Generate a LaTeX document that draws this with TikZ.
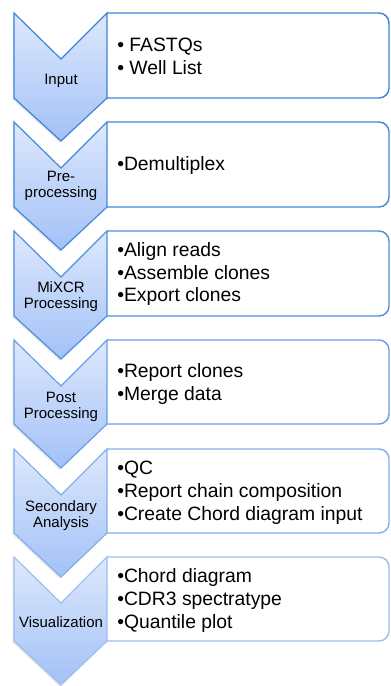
\documentclass[tikz,border=0pt]{standalone}
\usepackage{fontspec}
\setmainfont{Liberation Sans}
\usetikzlibrary{shadows}
\definecolor{lineblue}{HTML}{3D84D8}
\definecolor{linepale}{HTML}{BCD3F5}
\definecolor{fillhi}{HTML}{DDE8FC}
\definecolor{filllo}{HTML}{A3C1F7}

\begin{document}
\begin{tikzpicture}[x=0.75pt,y=-0.75pt,
  chevron/.style={draw=#1, line width=0.9pt, line join=miter,
    top color=fillhi, bottom color=filllo,
    drop shadow={shadow xshift=-1pt, shadow yshift=-1.2pt, opacity=0.18}},
  listbox/.style={draw=#1, line width=1.1pt, fill=white, rounded corners=7.5pt},
  stagelabel/.style={anchor=base, align=center, inner sep=0pt,
    font=\fontsize{11.25}{12}\selectfont},
  items/.style={anchor=base west, align=left, inner sep=0pt,
    font=\fontsize{14.5}{17}\selectfont}]
  \useasboundingbox (0,0) rectangle (391,686);
  % Input
  \draw[listbox=lineblue] (107,13) -- (389,13) -- (389,98) -- (107,98);
  \draw[chevron=lineblue] (14,13) -- (61,59) -- (107,13) -- (107,98) -- (61,141) -- (14,98) -- cycle;
  \node[stagelabel] (input) at (61,84) {Input};
  \node[items] (inputlist) at (117,74) {• FASTQs\\• Well List};
  % Pre-processing
  \draw[listbox=lineblue!95!linepale] (107,122) -- (389,122) -- (389,207) -- (107,207);
  \draw[chevron=lineblue!95!linepale] (14,122) -- (61,168) -- (107,122) -- (107,207) -- (61,250) -- (14,207) -- cycle;
  \node[stagelabel] (preproc) at (61,197) {Pre-\\processing};
  \node[items] (preproclist) at (117,170) {•Demultiplex};
  % MiXCR processing
  \draw[listbox=lineblue!85!linepale] (107,231) -- (389,231) -- (389,316) -- (107,316);
  \draw[chevron=lineblue!85!linepale] (14,231) -- (61,277) -- (107,231) -- (107,316) -- (61,359) -- (14,316) -- cycle;
  \node[stagelabel] (mixcr) at (61,308) {MiXCR\\Processing};
  \node[items] (mixcrlist) at (117,301.7) {•Align reads\\•Assemble clones\\•Export clones};
  % Post processing
  \draw[listbox=lineblue!65!linepale] (107,340) -- (389,340) -- (389,424) -- (107,424);
  \draw[chevron=lineblue!65!linepale] (14,340) -- (61,386) -- (107,340) -- (107,424) -- (61,468) -- (14,424) -- cycle;
  \node[stagelabel] (postproc) at (61,418) {Post\\Processing};
  \node[items] (postproclist) at (117,400) {•Report clones\\•Merge data};
  % Secondary analysis
  \draw[listbox=lineblue!45!linepale] (107,449) -- (389,449) -- (389,533) -- (107,533);
  \draw[chevron=lineblue!45!linepale] (14,449) -- (61,495) -- (107,449) -- (107,533) -- (61,577) -- (14,533) -- cycle;
  \node[stagelabel] (secondary) at (61,527) {Secondary\\Analysis};
  \node[items] (secondarylist) at (117,520) {•QC\\•Report chain composition\\•Create Chord diagram input};
  % Visualization
  \draw[listbox=lineblue!25!linepale] (107,557) -- (389,557) -- (389,641) -- (107,641);
  \draw[chevron=lineblue!25!linepale] (14,557) -- (61,603) -- (107,557) -- (107,641) -- (61,685) -- (14,641) -- cycle;
  \node[stagelabel] (visual) at (61,627) {Visualization};
  \node[items] (visuallist) at (117,628) {•Chord diagram\\•CDR3 spectratype\\•Quantile plot};
\end{tikzpicture}
\end{document}
